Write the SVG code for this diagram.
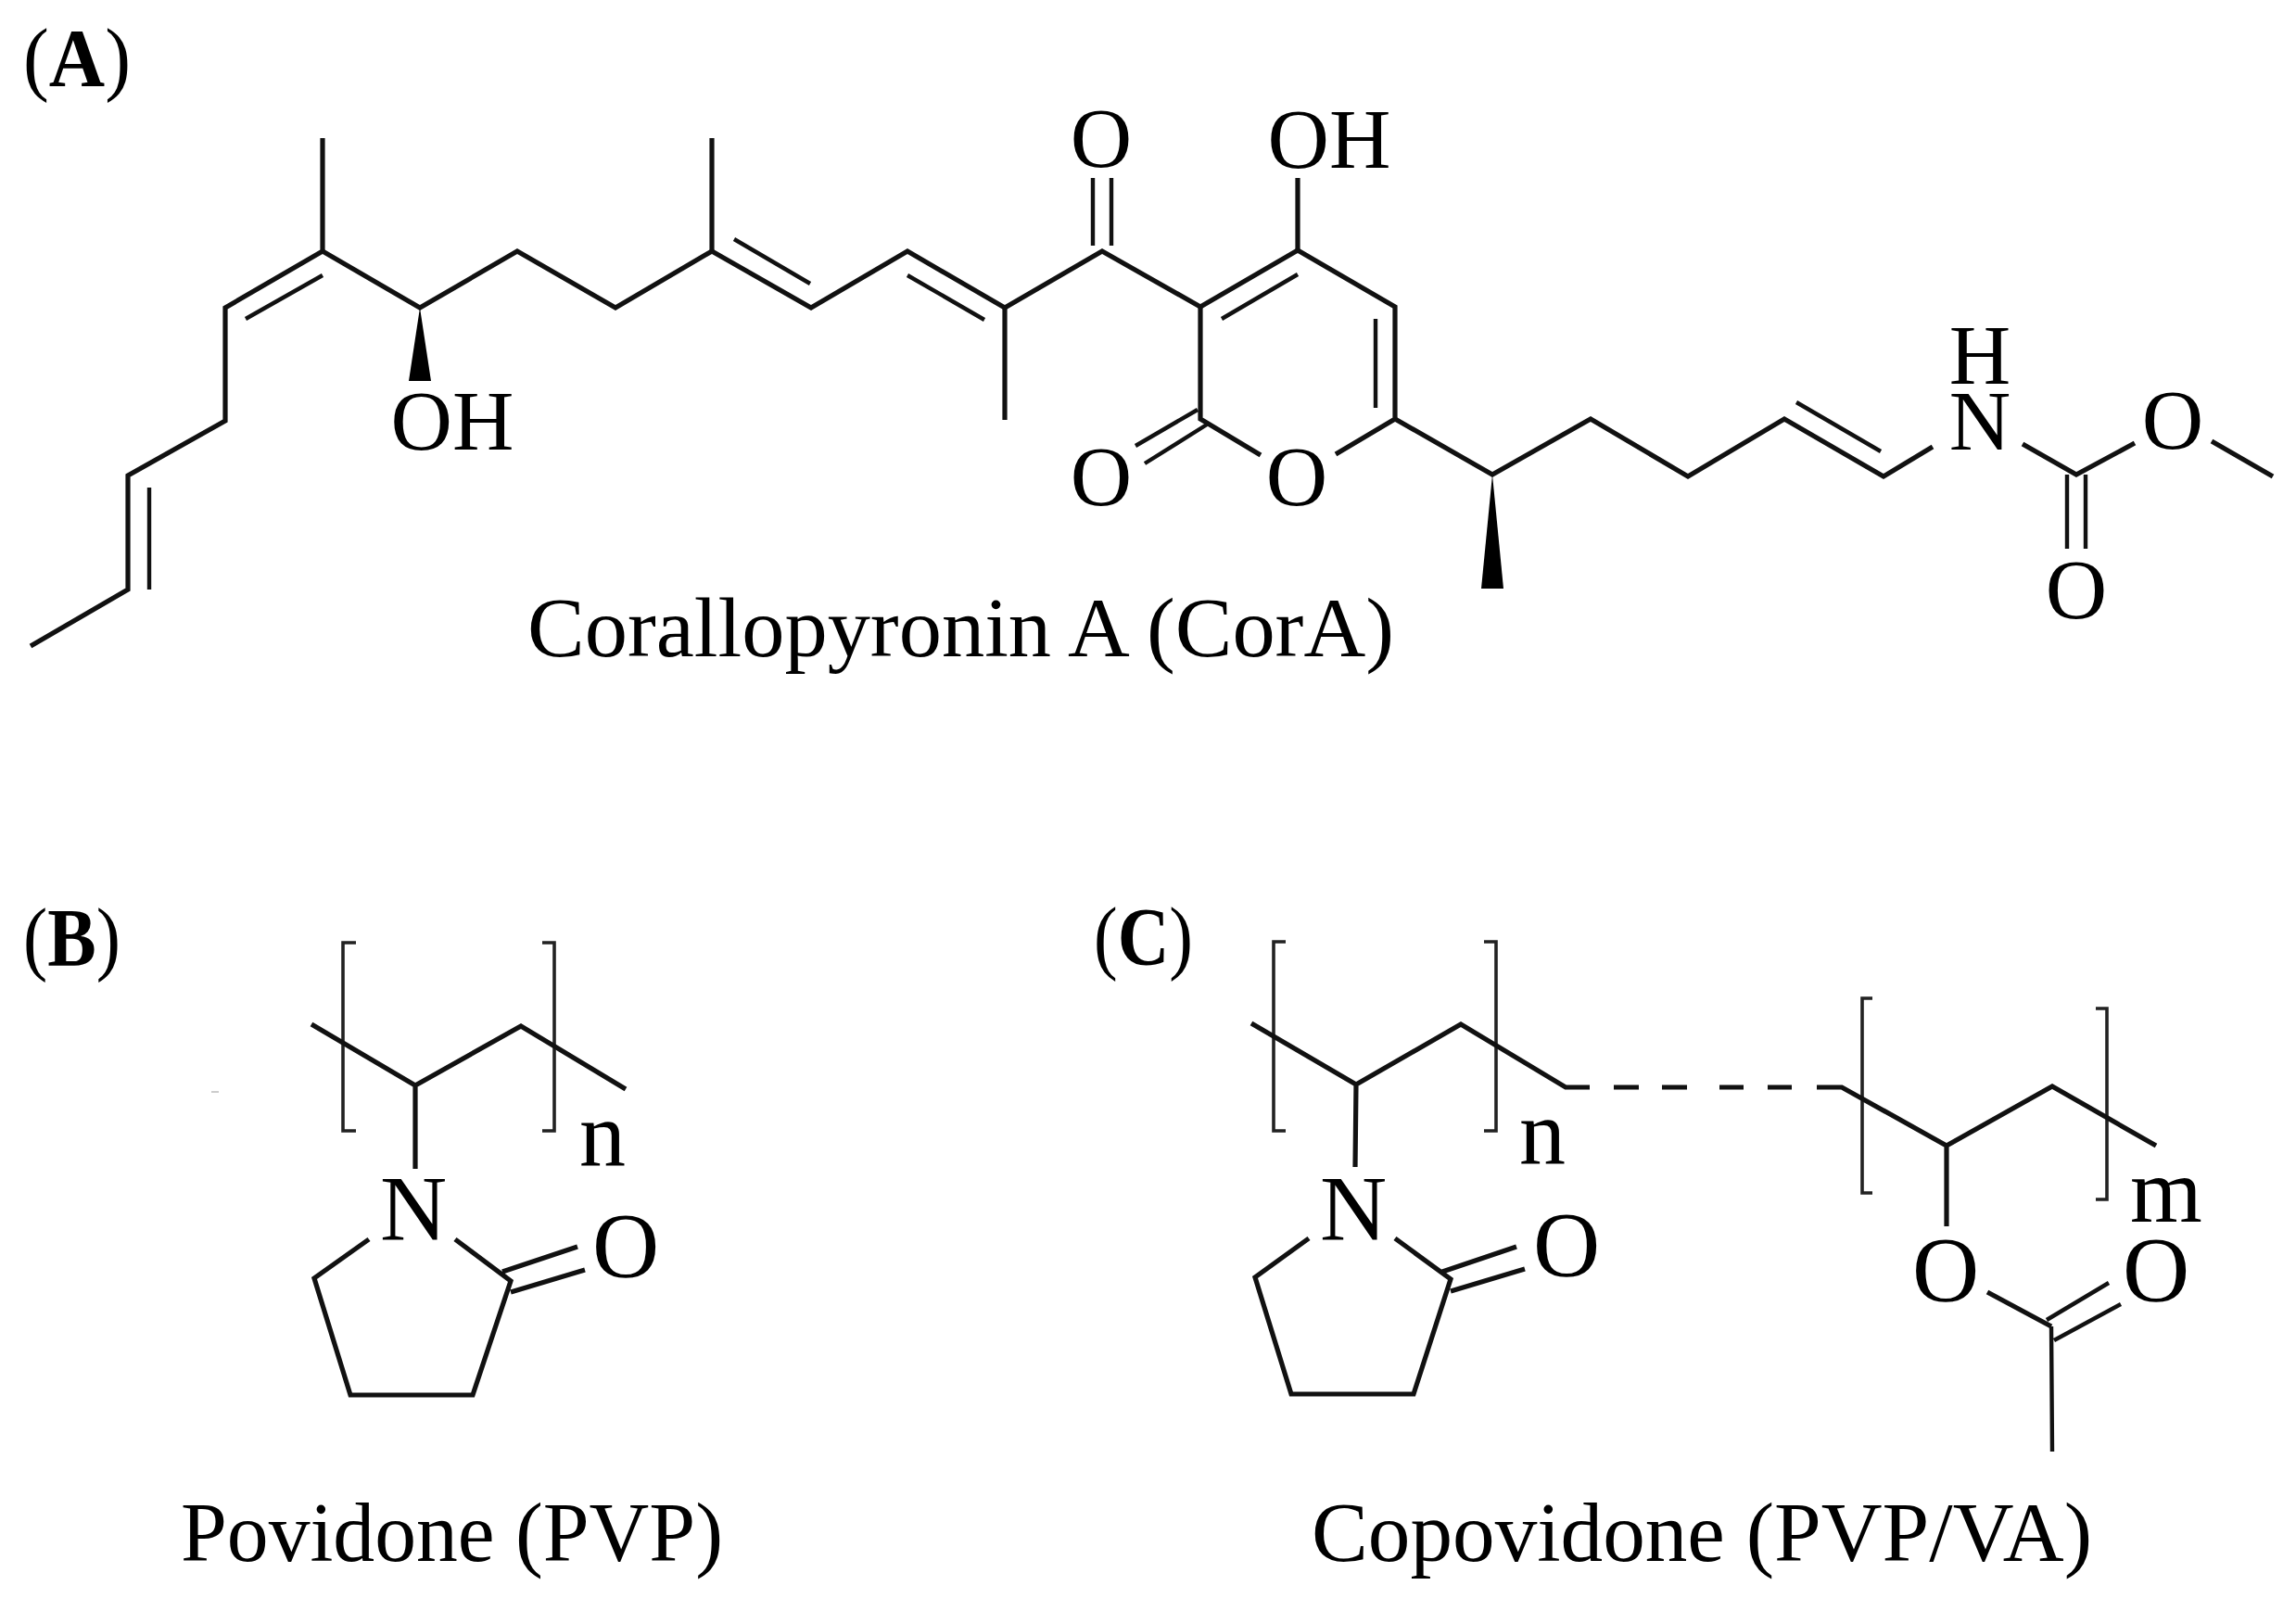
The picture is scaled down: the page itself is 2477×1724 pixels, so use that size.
<svg xmlns="http://www.w3.org/2000/svg" width="2477" height="1724" viewBox="0 0 2477 1724">
<style>
text{font-family:"Liberation Serif","Times New Roman",serif;fill:#000}
.a{font-size:92px;text-anchor:middle}
.a2{font-size:100px;text-anchor:middle}
.c{font-size:90px}
.p{font-size:88px;font-weight:bold}
.pr{font-weight:normal}
.b{fill:none;stroke:#111;stroke-width:5.2;stroke-linejoin:miter;stroke-linecap:butt}
.t{fill:none;stroke:#111;stroke-width:4.4}
.br{fill:none;stroke:#222;stroke-width:3.6}
.w{fill:#000}
</style>
<rect width="2477" height="1724" fill="#fff"/>
<g id="structure-a">
<path class="b" d="M348 149V271L243 332V454L138 513V636L33 697"/>
<path class="b" d="M348 271L453 332L558 271L664 332L768 271L875 332L979 271L1084 332L1189 271L1295 331L1400 270L1505 331V452L1441 490"/>
<path class="b" d="M768 149V271M1084 332V453M1400 192V270M1295 331V452L1360 491M1505 452L1610 512L1716 452L1821 514L1925 452L2032 514L2085 482M2182 479L2240 512L2303 478M2386 476L2452 514"/>
<path class="t" d="M265 344L348 297M161 526V636M792 258L874 306M979 297L1062 345M1179 192V265M1199 192V265M1318 344L1400 296M1484 344V440M1292 442L1225 481M1302 458L1235 500M1938 434L2029 487M2230 512V592M2250 512V592"/>
<polygon class="w" points="453,332 441,411 465,411"/>
<polygon class="w" points="1610,512 1598,635 1622,635"/>
<text class="a" x="1188" y="180">O</text>
<text class="a" x="1434" y="181">OH</text>
<text class="a" x="488" y="485">OH</text>
<text class="a" x="1188" y="545">O</text>
<text class="a" x="1399" y="545">O</text>
<text class="a" x="2136" y="414">H</text>
<text class="a" x="2136" y="485">N</text>
<text class="a" x="2344" y="484">O</text>
<text class="a" x="2240" y="667">O</text>
<text class="c" x="569" y="708" textLength="935" lengthAdjust="spacingAndGlyphs">Corallopyronin A (CorA)</text>
<text class="p" x="25" y="92" textLength="116" lengthAdjust="spacingAndGlyphs"><tspan class="pr">(</tspan>A<tspan class="pr">)</tspan></text>
</g>
<g id="structure-b">
<path class="br" d="M384 1017H370V1220H384M585 1017H598V1220H585"/>
<path class="b" d="M336 1105L448 1171L562 1107L675 1175M448 1171V1261M398 1337L339 1379L378 1505H510L551 1382L491 1337M542 1372L623 1345M551 1394L631 1370"/>
<path d="M228 1178H236" stroke="#bbb" stroke-width="1.5"/>
<text class="a2" x="446" y="1337">N</text>
<text class="a2" x="675" y="1377">O</text>
<text class="a2" x="650" y="1257">n</text>
<text class="c" x="195" y="1684" textLength="585" lengthAdjust="spacingAndGlyphs">Povidone (PVP)</text>
<text class="p" x="25" y="1041" textLength="105" lengthAdjust="spacingAndGlyphs"><tspan class="pr">(</tspan>B<tspan class="pr">)</tspan></text>
</g>
<g id="structure-c">
<path class="br" d="M1387 1016H1374V1220H1387M1601 1016H1614V1220H1601M2020 1077H2009V1287H2020M2261 1088H2273V1294H2261"/>
<path class="b" d="M1350 1104L1463 1170L1576 1105L1689 1173H1715M1463 1170L1462 1259M1412 1336L1354 1378L1393 1504H1525L1565 1380L1505 1336M1556 1372L1636 1345M1565 1393L1645 1369"/>
<path class="b" d="M1960 1173H1987L2100 1236L2214 1172L2326 1236M2100 1236V1323M2144 1394L2213 1431M1741 1173H1768M1793 1173H1820M1855 1173H1881M1907 1173H1933"/>
<path class="t" d="M2208 1424L2275 1384M2216 1446L2288 1407M2213 1431L2214 1566"/>
<text class="a2" x="1460" y="1337">N</text>
<text class="a2" x="1690" y="1376">O</text>
<text class="a2" x="1664" y="1255">n</text>
<text class="a2" x="2099" y="1403">O</text>
<text class="a2" x="2326" y="1403">O</text>
<text class="a2" x="2337" y="1318">m</text>
<text class="c" x="1415" y="1684" textLength="842" lengthAdjust="spacingAndGlyphs">Copovidone (PVP/VA)</text>
<text class="p" x="1180" y="1040" textLength="107" lengthAdjust="spacingAndGlyphs"><tspan class="pr">(</tspan>C<tspan class="pr">)</tspan></text>
</g>
</svg>
